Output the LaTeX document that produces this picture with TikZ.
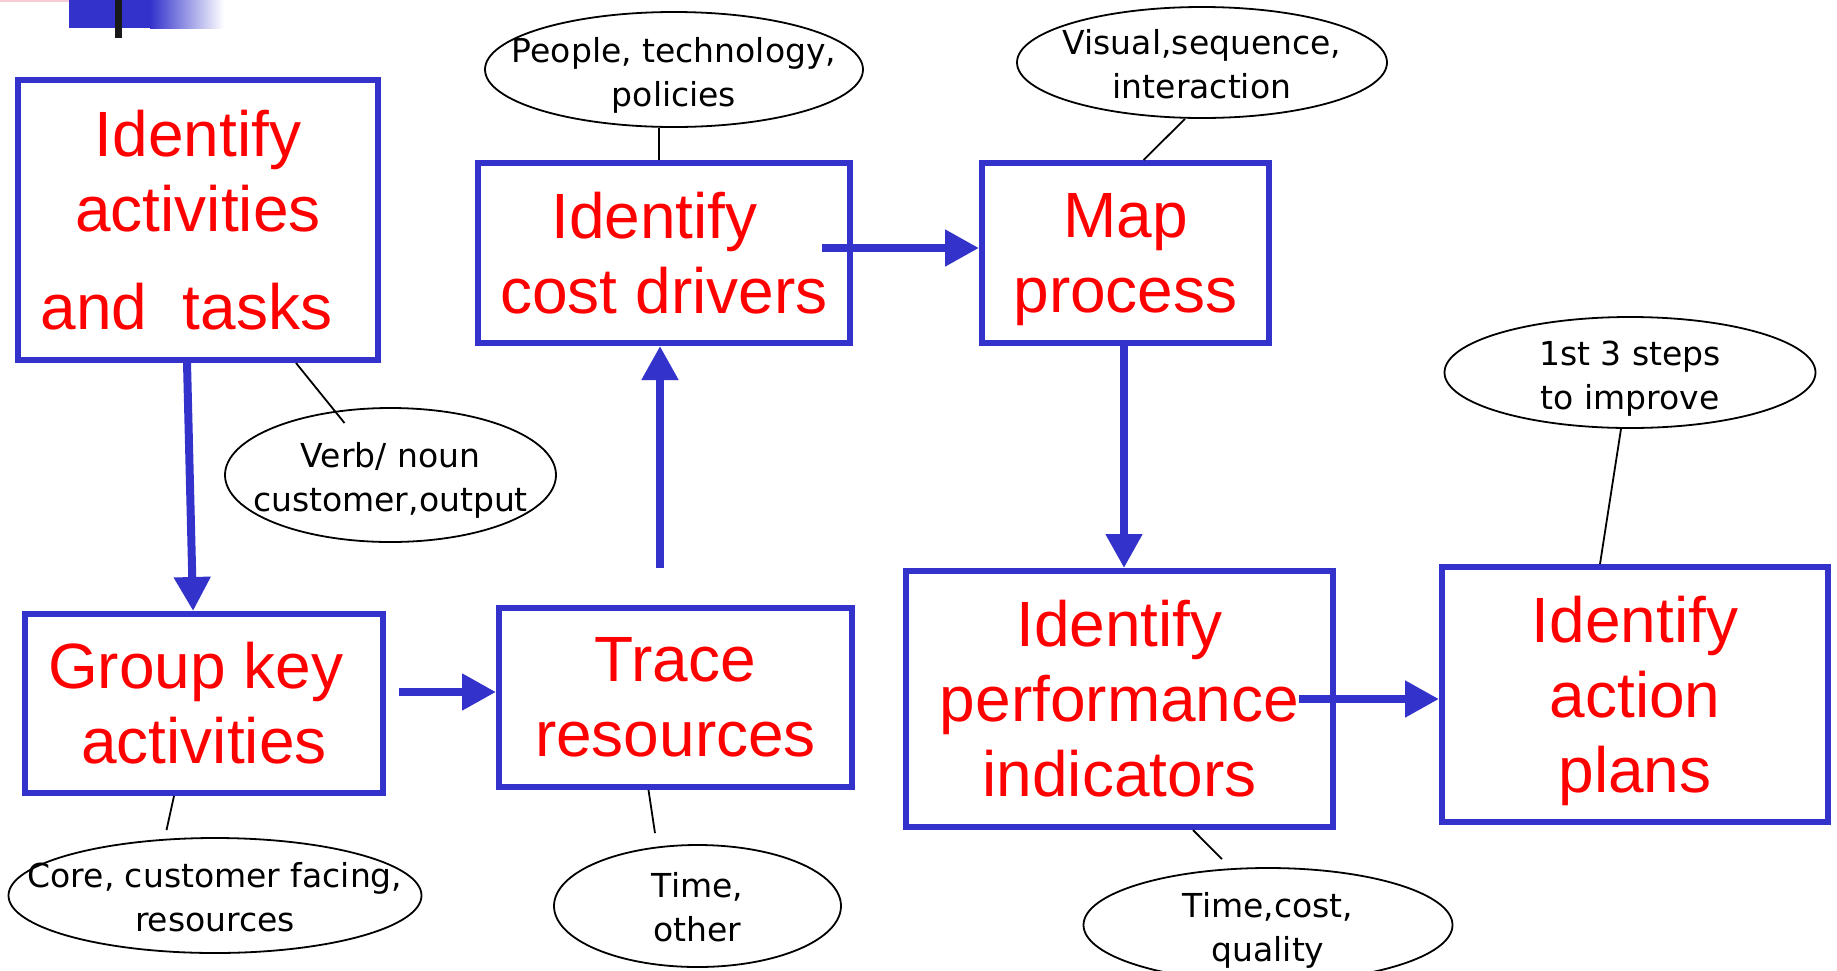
\documentclass[tikz,border=0pt]{standalone}
\usepackage{fontspec}
\setmainfont{Liberation Sans}
\newfontfamily\notefont{DejaVu Sans}
\usetikzlibrary{arrows.meta,calc,shapes.geometric}

\definecolor{flowblue}{RGB}{51,51,204}
\definecolor{stepred}{RGB}{255,0,0}
\definecolor{barpink}{RGB}{246,205,214}

\tikzset{
  steptext/.style={align=center, inner sep=0pt, text=stepred,
    font=\fontsize{32}{37.5}\selectfont},
  stepframe/.style={draw=flowblue, line width=3pt, rectangle, inner sep=0pt},
  stepbox/.style={stepframe, steptext},
  bubble/.style={draw=black, line width=0.9pt, ellipse, inner sep=0pt},
  bubbletext/.style={align=center, inner sep=0pt, text=black,
    font=\notefont\fontsize{16.5}{22}\selectfont},
  flow/.style={draw=flowblue, line width=4pt,
    -{Triangle[length=17pt,width=17.5pt]}},
  tie/.style={draw=black, line width=0.9pt},
}

\begin{document}
\begin{tikzpicture}[x=0.5pt,y=-0.5pt]
  % page area
  \useasboundingbox (0,0) rectangle (1837,970);
  \fill[white] (0,0) rectangle (1837,970);

  % corner ornament
  \fill[barpink] (0,0) rectangle (100,2);
  \fill[flowblue] (69,0) rectangle (151,28);
  \shade[left color=flowblue, right color=white] (150,0) rectangle (224,28);
  \fill[black!90] (115,0) rectangle (122,38);

  % process steps
  \node[stepbox, minimum width=180pt, minimum height=140pt] (b1) at (198,220)
    {Identify\\activities\\[11.5pt]and\ \ tasks\kern11.5pt};
  \node[stepbox, minimum width=186pt, minimum height=90pt] (b2) at (664,253)
    {Identify\kern9.4pt\\cost drivers};
  \node[stepframe, minimum width=143.5pt, minimum height=90pt] (b3) at (1125.5,253) {};
  \node[steptext, yshift=-3.3pt] (b3t) at (b3.center) {Map\\process};
  \node[stepbox, minimum width=179pt, minimum height=89.5pt] (b4) at (204,703.5)
    {Group key\kern8.2pt\\activities};
  \node[stepbox, minimum width=176.5pt, minimum height=89.5pt] (b5) at (675.5,697.5)
    {Trace\\resources};
  \node[stepbox, minimum width=213.5pt, minimum height=128pt] (b6) at (1119.5,699)
    {Identify\\performance\\indicators};
  \node[stepframe, minimum width=193pt, minimum height=127.5pt] (b7) at (1635,694.5) {};
  \node[steptext, yshift=-3.3pt] (b7t) at (b7.center) {Identify\\action\\plans};

  % notes
  \node[bubble, minimum width=189pt, minimum height=57.5pt,
    label={[bubbletext, yshift=-2.7pt]center:{People, technology,\\policies}}] (e1) at (674,69.5) {};
  \node[bubble, minimum width=185pt, minimum height=55.5pt,
    label={[bubbletext, yshift=-0.7pt]center:{Visual,sequence,\\interaction}}] (e2) at (1202,62.5) {};
  \node[bubble, minimum width=185.5pt, minimum height=55.5pt,
    label={[bubbletext, yshift=-2.9pt]center:{1st 3 steps\\to improve}}] (e3) at (1630,372.5) {};
  \node[bubble, minimum width=165.5pt, minimum height=67pt,
    label={[bubbletext, yshift=-2.7pt]center:{Verb/ noun\\customer,output}}] (e4) at (390.5,475) {};
  \node[bubble, minimum width=206.5pt, minimum height=57.5pt,
    label={[bubbletext, yshift=-0.7pt]center:{Core, customer facing,\\resources}}] (e5) at (215,895.5) {};
  \node[bubble, minimum width=143.5pt, minimum height=61pt,
    label={[bubbletext, yshift=-0.7pt]center:{Time,\\other}}] (e6) at (697.5,906) {};
  \node[bubble, minimum width=184.5pt, minimum height=57pt,
    label={[bubbletext, yshift=-2.7pt]center:{Time,cost,\\quality}}] (e7) at (1268,925) {};

  % note ties
  \draw[tie] ($(b2.north)+(-5,0)$) -- ($(e1.south)+(-15,0)$);
  \draw[tie] ($(e2.south)+(-17,0)$) -- ($(b3.north)+(18,0)$);
  \draw[tie] ($(e3.south)+(-9,0)$) -- ($(b7.north)+(-35,0)$);
  \coordinate (t4) at ($(e4.center)+(-46,-52)$);
  \draw[tie] ($(b1.south)+(98,0)$) -- (t4);
  \coordinate (t5) at ($(e5.north)+(-48.5,-7)$);
  \draw[tie] ($(b4.south)+(-30,0)$) -- (t5);
  \coordinate (t6) at ($(e6.north)+(-42.5,-11)$);
  \draw[tie] ($(b5.south)+(-27,0)$) -- (t6);
  \coordinate (t7) at ($(e7.north)+(-46,-8)$);
  \draw[tie] ($(b6.south)+(73.5,0)$) -- (t7);

  % flow arrows
  \draw[flow] ($(b1.south west)!0.47!(b1.south east)$) -- ($(b4.north west)!0.47!(b4.north east)$);
  \draw[flow] ($(b4.east)+(13,-11.5)$) -- ($(b5.west)+(0,-5.5)$);
  \draw[flow] ($(b5.north)+(-15.5,-37)$) -- ($(b2.south)+(-4,0)$);
  \draw[flow] ($(b2.east)+(-31,-5)$) -- ($(b3.west)+(0,-5)$);
  \draw[flow] ($(b3.south)+(-1.5,0)$) -- ($(b6.north)+(4.5,0)$);
  \draw[flow] ($(b6.east)+(-37,0)$) -- ($(b7.west)+(0,4.5)$);
\end{tikzpicture}
\end{document}
